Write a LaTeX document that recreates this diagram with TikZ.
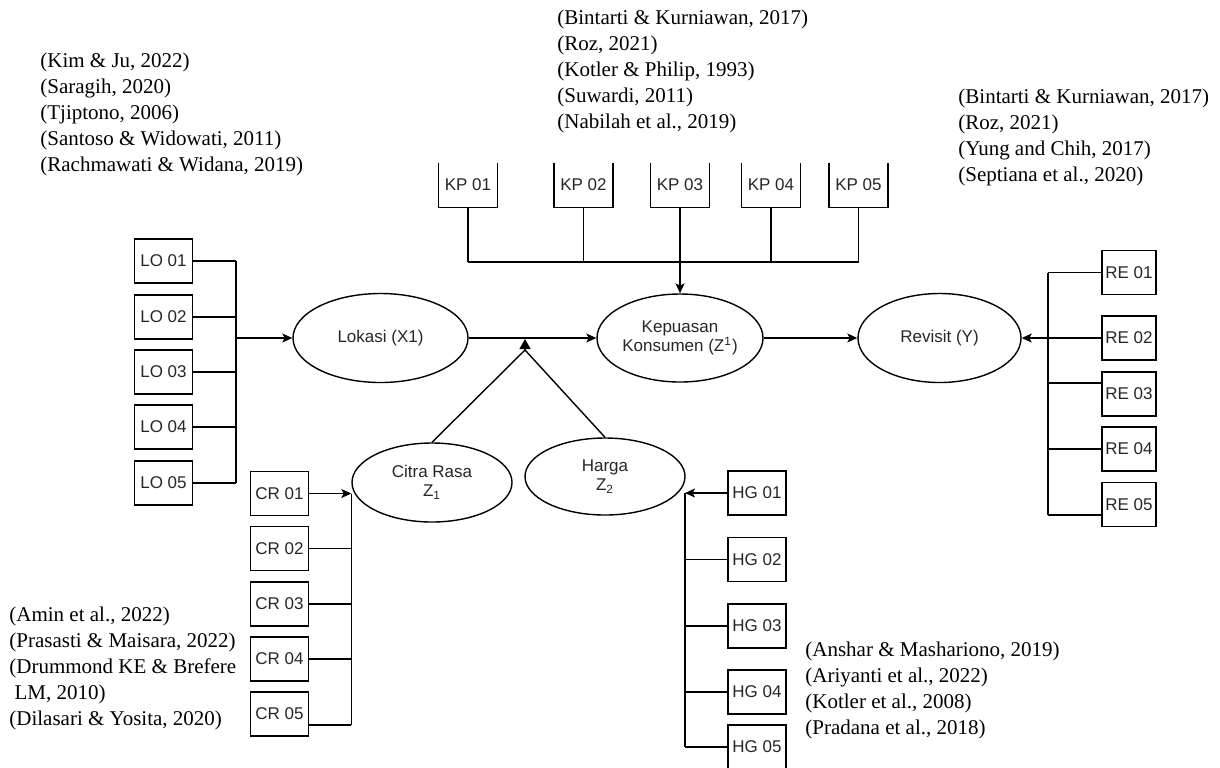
\documentclass[tikz,border=0pt]{standalone}
\usepackage{fontspec}
\setmainfont{Liberation Serif}
\newfontfamily\arialf{Liberation Sans}
\usetikzlibrary{arrows.meta,shapes.geometric}
\begin{document}
\begin{tikzpicture}[x=0.5pt,y=-0.5pt,
  ln/.style={line width=0.7pt},
  box/.style={draw, line width=0.7pt, minimum width=29pt, minimum height=22pt, inner sep=0pt,
    font=\arialf\fontsize{8.5}{10}\selectfont, text=black!85},
  openbox/.style={minimum width=29pt, minimum height=22pt, inner sep=0pt,
    font=\arialf\fontsize{8.5}{10}\selectfont, text=black!85},
  latent/.style={draw, ellipse, line width=0.7pt, inner sep=0pt, align=center,
    font=\arialf\fontsize{8.5}{9.5}\selectfont, text=black!85},
  ref/.style={anchor=west, inner sep=0pt, align=left, font=\fontsize{10.5}{13}\selectfont},
  arr/.style={ln, -{Stealth[length=5pt,width=4.5pt,inset=1.2pt]}},
]
\useasboundingbox (0,0) rectangle (1220,767);

% latent variables
\node[latent, minimum width=87.5pt, minimum height=44.5pt] (lok) at (380.5,338) {Lokasi (X1)};
\node[latent, minimum width=83pt, minimum height=44pt] (kep) at (680,338) {Kepuasan\\Konsumen (Z\textsuperscript{1})};
\node[latent, minimum width=81.5pt, minimum height=44.5pt] (rev) at (939.5,338) {Revisit (Y)};
\node[latent, minimum width=80pt, minimum height=39.5pt] (cit) at (432,482.5) {Citra Rasa\\Z\textsubscript{1}};
\node[latent, minimum width=80pt, minimum height=38.5pt] (har) at (605,476.5) {Harga\\Z\textsubscript{2}};

% indicator boxes
\node[box] (lo1) at (163.5,261) {LO 01};
\node[box] (lo2) at (163.5,317) {LO 02};
\node[box] (lo3) at (163.5,372) {LO 03};
\node[box] (lo4) at (163.5,427) {LO 04};
\node[box] (lo5) at (163.5,483) {LO 05};

\node[box] (cr1) at (279.5,493.5) {CR 01};
\node[box] (cr2) at (279.5,548.5) {CR 02};
\node[box] (cr3) at (279.5,604) {CR 03};
\node[box] (cr4) at (279.5,659) {CR 04};
\node[box] (cr5) at (279.5,714) {CR 05};

\node[openbox] (kp1) at (468,185) {KP 01};
\node[openbox] (kp2) at (583.5,185) {KP 02};
\node[openbox] (kp3) at (680,185) {KP 03};
\node[openbox] (kp4) at (771,185) {KP 04};
\node[openbox] (kp5) at (858.5,185) {KP 05};
\foreach \k in {kp1,kp2,kp3,kp4,kp5}
  \draw[ln] (\k.north west) |- (\k.south east) -- (\k.north east);

\node[box, minimum width=27pt] (re1) at (1129,272.5) {RE 01};
\node[box, minimum width=27pt] (re2) at (1129,338) {RE 02};
\node[box, minimum width=27pt] (re3) at (1129,394) {RE 03};
\node[box, minimum width=27pt] (re4) at (1129,449) {RE 04};
\node[box, minimum width=27pt] (re5) at (1129,504.5) {RE 05};

\node[box] (hg1) at (757,493) {HG 01};
\node[box] (hg2) at (757,559.5) {HG 02};
\node[box] (hg3) at (757,626) {HG 03};
\node[box] (hg4) at (757,692) {HG 04};
\node[box] (hg5) at (757,747) {HG 05};

% LO connectors
\coordinate (lobus) at (236,0);
\foreach \k in {lo1,lo2,lo3,lo4,lo5}
  \draw[ln] (\k.east) -- (\k.east -| lobus);
\draw[ln] (lo1.east -| lobus) -- (lo5.east -| lobus);
\draw[arr] (lobus |- lok.west) -- (lok.west);

% KP connectors
\coordinate (kpbus) at (0,262);
\foreach \k in {kp1,kp2,kp4,kp5}
  \draw[ln] (\k.south) -- (\k.south |- kpbus);
\draw[ln] (kp1.south |- kpbus) -- (kp5.south |- kpbus);
\draw[arr] (kp3.south) -- (kep.north);

% structural paths
\draw[arr] (lok.east) -- (kep.west);
\draw[arr] (kep.east) -- (rev.west);
\coordinate (junc) at (525,350);
\coordinate (tip) at (525,339);
\draw[ln] (cit.north) -- (junc) -- (har.north);
\draw[ln, -{Triangle[length=5pt,width=5.5pt]}] (junc) -- (tip);

% RE connectors
\coordinate (rebus) at (1048,0);
\coordinate (re3c) at ([yshift=5.5pt]re3.west);
\coordinate (re5c) at ([yshift=-5.25pt]re5.west);
\draw[ln] (re1.west) -- (re1.west -| rebus);
\draw[ln] (re3c) -- (re3c -| rebus);
\draw[ln] (re4.west) -- (re4.west -| rebus);
\draw[ln] (re5c) -- (re5c -| rebus);
\draw[ln] (re1.west -| rebus) -- (re5c -| rebus);
\draw[arr] (re2.west) -- (rev.east);

% CR connectors
\coordinate (cr5c) at ([yshift=-5.5pt]cr5.east);
\draw[arr] (cr1.east) -- (cr1.east -| cit.west);
\draw[ln] (cr2.east) -- (cr2.east -| cit.west);
\draw[ln] (cr3.east) -- (cr3.east -| cit.west);
\draw[ln] (cr4.east) -- (cr4.east -| cit.west);
\draw[ln] (cr5c) -- (cr5c -| cit.west);
\draw[ln] (cr1.east -| cit.west) -- (cr5c -| cit.west);

% HG connectors
\coordinate (hgbus) at (685,0);
\draw[arr] (hg1.west) -- (hg1.west -| hgbus);
\foreach \k in {hg2,hg3,hg4,hg5}
  \draw[ln] (\k.west) -- (\k.west -| hgbus);
\draw[ln] (hg1.west -| hgbus) -- (hg5.west -| hgbus);

% references
\node[ref] (r1) at (40,114) {(Kim \& Ju, 2022)\\(Saragih, 2020)\\(Tjiptono, 2006)\\(Santoso \& Widowati, 2011)\\(Rachmawati \& Widana, 2019)};
\node[ref] (r2) at (557,71) {(Bintarti \& Kurniawan, 2017)\\(Roz, 2021)\\(Kotler \& Philip, 1993)\\(Suwardi, 2011)\\(Nabilah et al., 2019)};
\node[ref] (r3) at (958,137) {(Bintarti \& Kurniawan, 2017)\\(Roz, 2021)\\(Yung and Chih, 2017)\\(Septiana et al., 2020)};
\node[ref] (r4) at (9,668) {(Amin et al., 2022)\\(Prasasti \& Maisara, 2022)\\(Drummond KE \& Brefere\\\hspace*{0.25em}LM, 2010)\\(Dilasari \& Yosita, 2020)};
\node[ref] (r5) at (805,690) {(Anshar \& Mashariono, 2019)\\(Ariyanti et al., 2022)\\(Kotler et al., 2008)\\(Pradana et al., 2018)};
\end{tikzpicture}
\end{document}
